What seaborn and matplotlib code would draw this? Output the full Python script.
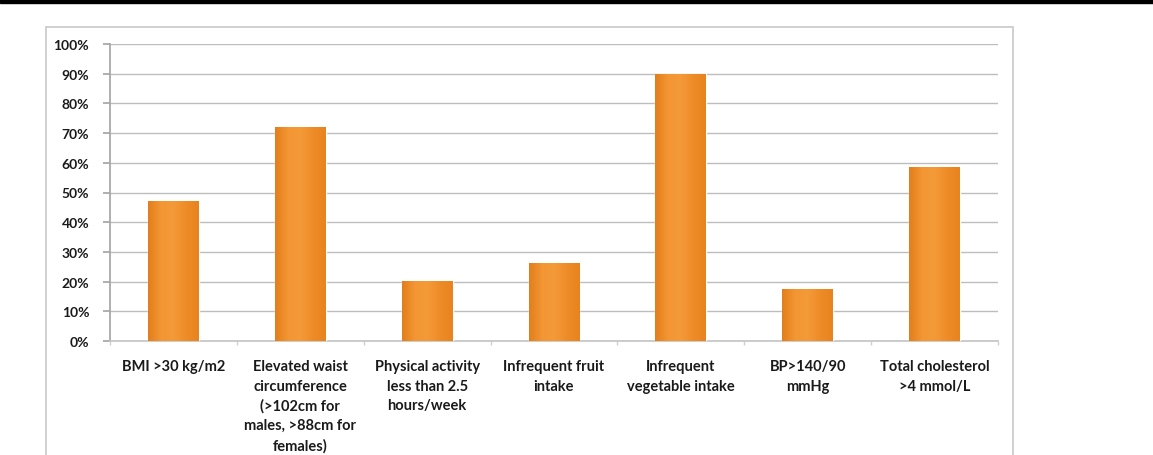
import numpy as np
import pandas as pd
import matplotlib
matplotlib.use("Agg")
import matplotlib.pyplot as plt
import seaborn as sns
from matplotlib.colors import LinearSegmentedColormap
from matplotlib.patches import Rectangle
from matplotlib.ticker import PercentFormatter, MultipleLocator

# Kategorier och andelar (%)
categories = [
    "BMI >30 kg/m2",
    "Elevated waist\ncircumference\n(>102cm for\nmales, >88cm for\nfemales)",
    "Physical activity\nless than 2.5\nhours/week",
    "Infrequent fruit\nintake",
    "Infrequent\nvegetable intake",
    "BP>140/90\nmmHg",
    "Total cholesterol\n>4 mmol/L",
]
values = [47.2, 71.9, 20.3, 26.1, 90.0, 17.6, 58.5]

df = pd.DataFrame({"Riskfaktor": categories, "Andel": values})

sns.set_theme(style="white")
plt.rcParams["font.family"] = ["Lato", "DejaVu Sans"]

fig = plt.figure(figsize=(11.53, 4.56), dpi=100)
ax = fig.add_axes([110 / 1153, 1 - 342 / 456, 888 / 1153, 297 / 456])

sns.barplot(data=df, x="Riskfaktor", y="Andel", color="#F0902E",
            width=0.4, saturation=1, ax=ax, zorder=3)

# Svag gradient i staplarna (lite mörkare kanter)
grad_cmap = LinearSegmentedColormap.from_list(
    "orange", ["#E47E1C", "#F39633", "#F49A38", "#EE8C28", "#E8841F"])
grad = np.linspace(0, 1, 64).reshape(1, -1)
for bar in ax.patches:
    x0, y0 = bar.get_x(), bar.get_y()
    w, h = bar.get_width(), bar.get_height()
    im = ax.imshow(grad, cmap=grad_cmap, aspect="auto",
                   extent=(x0, x0 + w, y0, y0 + h), zorder=4)
    im.set_clip_path(bar)

ax.set_xlim(-0.5, len(categories) - 0.5)
ax.set_ylim(0, 100)
ax.yaxis.set_major_locator(MultipleLocator(10))
ax.yaxis.set_major_formatter(PercentFormatter(decimals=0))
ax.grid(axis="y", color="#BDBDBD", linewidth=1.0, zorder=0)
ax.set_xlabel("")
ax.set_ylabel("")

for side in ["top", "right"]:
    ax.spines[side].set_visible(False)
ax.spines["left"].set_color("#A6A6A6")
ax.spines["bottom"].set_color("#C6C6C6")

ax.tick_params(axis="y", left=True, length=5, color="#A6A6A6",
               labelsize=10, pad=10)
ax.tick_params(axis="x", bottom=False, labelsize=10.5, pad=7)
for lbl in ax.get_yticklabels() + ax.get_xticklabels():
    lbl.set_fontweight("bold")
    lbl.set_color("#1A1A1A")
for lbl in ax.get_xticklabels():
    lbl.set_linespacing(1.5)

# Små streck mellan kategorierna
ax.set_xticks(np.arange(-0.5, len(categories), 1), minor=True)
ax.tick_params(axis="x", which="minor", bottom=True, length=3,
               color="#D0D0D0")

# Diagramram och svart band upptill
fig.patches.append(Rectangle((46 / 1153, -0.1), (1013 - 46) / 1153,
                             1.1 - 28 / 456, transform=fig.transFigure,
                             fill=False, edgecolor="#C8C8C8", linewidth=1.2))
fig.patches.append(Rectangle((0, 1 - 4 / 456), 1, 4 / 456,
                             transform=fig.transFigure, color="black"))

fig.savefig("out.png", dpi=100)
